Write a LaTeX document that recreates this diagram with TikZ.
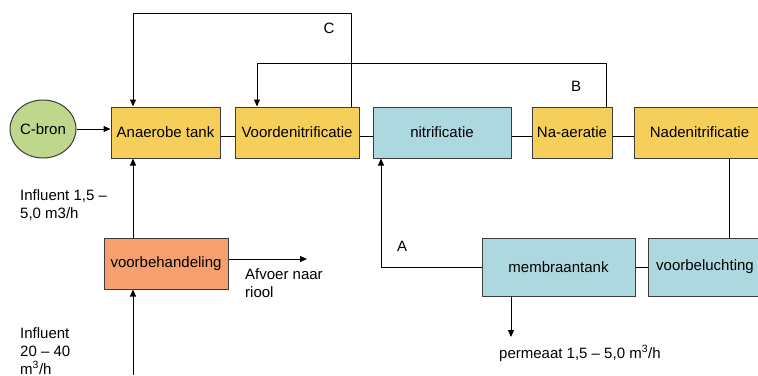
\documentclass[tikz,border=0pt]{standalone}
\usepackage{fontspec}
\setmainfont{Liberation Sans}
\usetikzlibrary{arrows.meta,shapes.geometric}
\definecolor{tankyellow}{RGB}{245,207,90}
\definecolor{tankblue}{RGB}{173,216,224}
\definecolor{srcgreen}{RGB}{190,215,140}
\definecolor{preorange}{RGB}{245,160,110}
\definecolor{edgegray}{RGB}{60,60,60}
\begin{document}
\begin{tikzpicture}[x=1pt,y=-1pt,
  font=\fontsize{15}{18}\selectfont,
  box/.style={draw=edgegray,line width=1pt,rectangle,inner sep=0pt,minimum height=51pt},
  yellowbox/.style={box,fill=tankyellow},
  bluebox/.style={box,fill=tankblue},
  pipe/.style={line width=1pt,draw=black},
  flow/.style={pipe,-{Triangle[length=7pt,width=6pt]}},
  note/.style={inner sep=0pt,align=left}]
\useasboundingbox (0,0) rectangle (758,375);

% process tanks, upper line
\node[yellowbox,minimum width=109pt] (anaerobe) at (165.5,132.5) {Anaerobe tank};
\node[yellowbox,minimum width=124pt] (voorden) at (297,132.5) {Voordenitrificatie};
\node[bluebox,minimum width=138pt] (nitri) at (442,132.5) {nitrificatie};
\node[yellowbox,minimum width=80pt] (naaer) at (572,132.5) {Na-aeratie};
\node[yellowbox,minimum width=131pt] (naden) at (699.5,132.5) {Nadenitrificatie};

% lower line
\node[bluebox,minimum width=153pt,minimum height=58pt] (membraan) at (558.5,267) {membraantank};
\node[bluebox,minimum width=114pt,minimum height=58pt] (voorbel) at (705,267) {voorbeluchting};
\node[box,fill=preorange,minimum width=124pt] (voorbeh) at (166,263.5) {voorbehandeling};

% carbon source
\node[ellipse,draw=edgegray,line width=1pt,fill=srcgreen,inner sep=0pt,
      minimum width=66pt,minimum height=58pt] (cbron) at (43,129) {C-bron};

% helper points for the piping
\coordinate (row) at (0,136);
\coordinate (cR) at (351,13);
\coordinate (cL) at (133,13);
\coordinate (bR) at (606,63);
\coordinate (bL) at (257,63);
\coordinate (aC) at (381,267);
\coordinate (drop) at (729,0);
\coordinate (perm) at (511,337);
\coordinate (inflow) at (133,375);
\coordinate (afvoer) at (307,259);

% series connections
\draw[pipe] (anaerobe.east |- row) -- (voorden.west |- row);
\draw[pipe] (voorden.east |- row) -- (nitri.west |- row);
\draw[pipe] (nitri.east |- row) -- (naaer.west |- row);
\draw[pipe] (naaer.east |- row) -- (naden.west |- row);
\draw[pipe] (naden.south -| drop) -- (voorbel.north -| drop);
\draw[pipe] (voorbel.west) -- (membraan.east);

% recirculation streams
\draw[flow] (voorden.north -| cR) -- (cR) -- (cL) -- (anaerobe.north -| cL);
\draw[flow] (naaer.north -| bR) -- (bR) -- (bL) -- (voorden.north -| bL);
\draw[flow] (membraan.west) -- (aC) -- (nitri.south -| aC);
\node at (329,28) {C};
\node at (576,86) {B};
\node at (402,246) {A};

% feeds and outlets
\draw[flow] (cbron.east) -- (anaerobe.west |- cbron.east);
\draw[flow] (voorbeh.north -| cL) -- (anaerobe.south -| cL);
\draw[flow] (inflow) -- (voorbeh.south -| inflow);
\draw[flow] (voorbeh.east |- afvoer) -- (afvoer);
\draw[flow] (membraan.south -| perm) -- (perm);

% stream annotations (base anchor sits on the last line)
\node[note,anchor=base west] (inf1) at (20,218) {Influent 1,5 --\\5,0 m3/h};
\node[note,anchor=base west] (inf2) at (20,374) {Influent\\20 -- 40\\m\textsuperscript{3}/h};
\node[note,anchor=base west] (afv) at (245,297) {Afvoer naar\\riool};
\node[note,anchor=base west] (permtxt) at (499,358) {permeaat 1,5 -- 5,0 m\textsuperscript{3}/h};
\end{tikzpicture}
\end{document}
